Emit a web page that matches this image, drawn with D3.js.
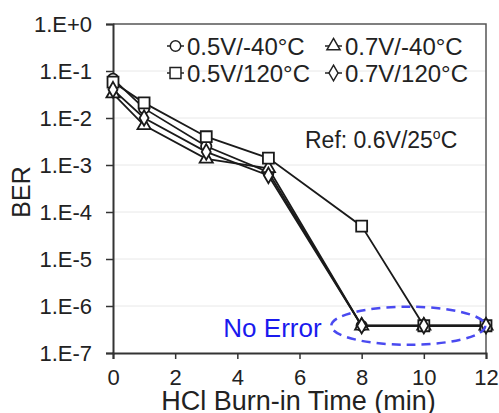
<!DOCTYPE html>
<html>
<head>
<meta charset="utf-8">
<script src="https://cdn.jsdelivr.net/npm/d3@7"></script>
<style>
  body { margin: 0; background: #fff; }
  svg { display: block; }
  svg text { font-family: Arial, "Liberation Sans", sans-serif; fill: #222; }
</style>
</head>
<body>
<svg id="chart"></svg>
<script>
// minutos de burn-in
const times = [0, 1, 3, 5, 8, 10, 12];
const yTicks = [1e-7, 1e-6, 1e-5, 1e-4, 1e-3, 1e-2, 1e-1, 1];
const xTicks = [0, 2, 4, 6, 8, 10, 12];

const ber05m40 = [0.068, 0.016, 0.0025, 0.0007, 3.8e-7, 3.8e-7, 3.8e-7];
const ber05p120 = [0.058, 0.021, 0.004, 0.0014, 5e-5, 3.8e-7, 3.8e-7];
const ber07m40 = [0.033, 0.007, 0.00135, 0.00085, 3.8e-7, 3.8e-7, 3.8e-7];
const ber07p120 = [0.04, 0.01, 0.0019, 0.0006, 3.8e-7, 3.8e-7, 3.8e-7];

const seriesNames = ["0.5V/-40°C", "0.7V/-40°C", "0.5V/120°C", "0.7V/120°C"];
const seriesValues = [ber05m40, ber07m40, ber05p120, ber07p120];
const seriesShapes = ["circle", "triangle", "square", "diamond"];

const width = 499, height = 413;
const margin = { top: 24, right: 13, bottom: 60, left: 113 };
const innerWidth = width - margin.left - margin.right;
const innerHeight = height - margin.top - margin.bottom;

const svg = d3.select("#chart").attr("width", width).attr("height", height);
const g = svg.append("g").attr("transform", `translate(${margin.left},${margin.top})`);

const x = d3.scaleLinear().domain([0, 12]).range([0, innerWidth]);
const y = d3.scaleLog().domain([1e-7, 1]).range([innerHeight, 0]);

// grade horizontal
g.append("g")
  .selectAll("line")
  .data(yTicks.slice(1, -1))
  .enter().append("line")
  .attr("x1", 0).attr("x2", innerWidth)
  .attr("y1", d => y(d)).attr("y2", d => y(d))
  .attr("stroke", "#e8e8e8").attr("stroke-width", 1);

// borda de cima e direita
g.append("path")
  .attr("d", `M0,0H${innerWidth}V${innerHeight}`)
  .attr("fill", "none").attr("stroke", "#555").attr("stroke-width", 1.5);

const fmt = d => {
  const e = Math.round(Math.log10(d));
  return "1.E" + (e >= 0 ? "+" + e : e);
};

const yAxis = g.append("g")
  .call(d3.axisLeft(y).tickValues(yTicks).tickFormat(fmt).tickSize(7).tickPadding(14))
  .attr("font-size", 22).attr("font-family", "Arial, 'Liberation Sans', sans-serif");
yAxis.select(".domain").attr("stroke", "#333").attr("stroke-width", 2);
yAxis.selectAll(".tick line").attr("stroke", "#333").attr("stroke-width", 1.5);
yAxis.selectAll("text").attr("fill", "#222");

const xAxis = g.append("g")
  .attr("transform", `translate(0,${innerHeight})`)
  .call(d3.axisBottom(x).tickValues(xTicks).tickSize(6).tickPadding(10))
  .attr("font-size", 22).attr("font-family", "Arial, 'Liberation Sans', sans-serif");
xAxis.select(".domain").attr("stroke", "#333").attr("stroke-width", 2);
xAxis.selectAll(".tick line").attr("stroke", "#333").attr("stroke-width", 1.5);
xAxis.selectAll("text").attr("fill", "#222");

const symbolOf = {
  circle: d3.symbol().type(d3.symbolCircle).size(85),
  triangle: d3.symbol().type(d3.symbolTriangle).size(75),
  square: d3.symbol().type(d3.symbolSquare).size(120),
  diamond: d3.symbol().type(d3.symbolDiamond).size(70)
};

const line = d3.line().x((d, i) => x(times[i])).y(d => y(d));

// linhas
seriesValues.forEach(vals => {
  g.append("path").datum(vals)
    .attr("fill", "none").attr("stroke", "#1a1a1a").attr("stroke-width", 1.8)
    .attr("d", line);
});

// marcadores
seriesValues.forEach((vals, k) => {
  g.append("g").selectAll("path")
    .data(vals).enter().append("path")
    .attr("transform", (d, i) => `translate(${x(times[i])},${y(d)})`)
    .attr("d", symbolOf[seriesShapes[k]]())
    .attr("fill", "white").attr("stroke", "#1a1a1a").attr("stroke-width", 1.8);
});

// elipse "No Error"
g.append("ellipse")
  .attr("cx", x(9.5)).attr("cy", y(3.8e-7))
  .attr("rx", 77).attr("ry", 19)
  .attr("fill", "none").attr("stroke", "#4a4af0")
  .attr("stroke-width", 2.5).attr("stroke-dasharray", "9,6");

g.append("text")
  .attr("x", x(3.55)).attr("y", y(3.8e-7) + 11)
  .style("font-size", "26px").style("fill", "#1a1aee")
  .text("No Error");

// legenda
const legendPos = [[54, 22], [212, 22], [54, 49], [212, 49]];
seriesNames.forEach((name, k) => {
  const [lx, ly] = legendPos[k];
  const lg = g.append("g").attr("transform", `translate(${lx},${ly})`);
  lg.append("line").attr("x1", 0).attr("x2", 17).attr("y1", 0).attr("y2", 0)
    .attr("stroke", "#222").attr("stroke-width", 1.5);
  lg.append("path").attr("transform", "translate(8.5,0)")
    .attr("d", symbolOf[seriesShapes[k]]())
    .attr("fill", "white").attr("stroke", "#222").attr("stroke-width", 1.5);
  lg.append("text").attr("x", 20).attr("y", 9)
    .style("font-size", "24px").text(name);
});

// referência
const ref = g.append("text")
  .attr("x", 192).attr("y", 124)
  .style("font-size", "23px");
ref.append("tspan").text("Ref: 0.6V/25");
ref.append("tspan").attr("dy", -9).style("font-size", "14px").text("o");
ref.append("tspan").attr("dy", 9).text("C");

// rótulos dos eixos
svg.append("text")
  .attr("x", margin.left + innerWidth / 2 - 1).attr("y", 410)
  .attr("text-anchor", "middle")
  .style("font-size", "27px")
  .text("HCl Burn-in Time (min)");

svg.append("text")
  .attr("transform", `translate(30,192) rotate(-90)`)
  .attr("text-anchor", "middle")
  .style("font-size", "25px")
  .text("BER");
</script>
</body>
</html>
